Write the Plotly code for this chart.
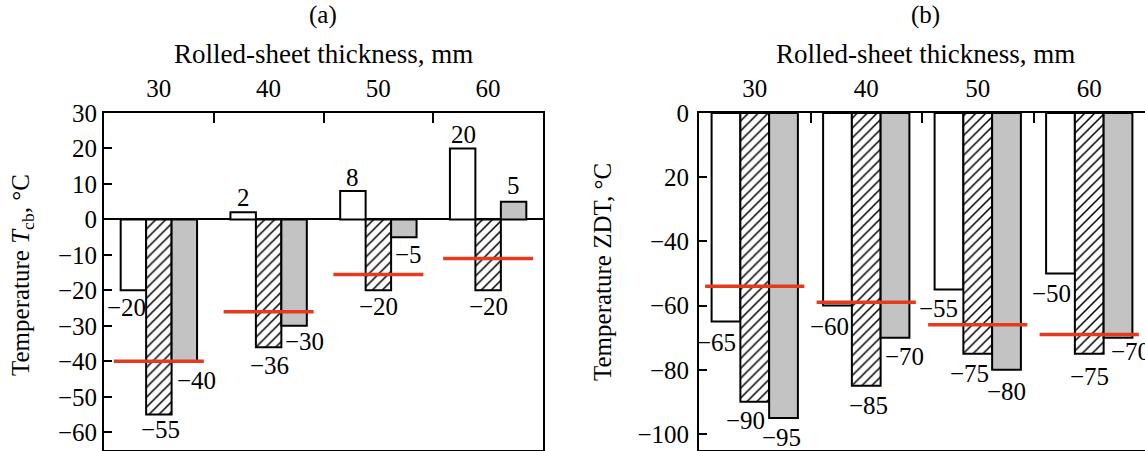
import plotly.graph_objects as go

# ---------------- data ----------------
thickness = ["30", "40", "50", "60"]

# panel (a): Temperature T_cb
a_white = [-20, 2, 8, 20]
a_hatched = [-55, -36, -20, -20]
a_gray = [-40, -30, -5, 5]
a_red = [-40, -26, -15.5, -11]
a_yticks = [30, 20, 10, 0, -10, -20, -30, -40, -50, -60]
a_yticktext = ["30", "20", "10", "0", "−10", "−20", "−30", "−40", "−50", "−60"]

# panel (b): Temperature ZDT
b_white = [-65, -60, -55, -50]
b_hatched = [-90, -85, -75, -75]
b_gray = [-95, -70, -80, -70]
b_red = [-54, -59, -66, -69]
b_yticks = [0, -20, -40, -60, -80, -100]
b_yticktext = ["0", "20", "−40", "−60", "−80", "−100"]

# ---------------- styles ----------------
W, H = 1145, 451
T_MARGIN, B_MARGIN = 113, 1
FONT = "Liberation Serif"
FS = 25
RED = "#e63a1e"
GRAY = "#c3c3c3"

def px(p):
    return p / W

def py(p):
    return (H - B_MARGIN - p) / (H - T_MARGIN - B_MARGIN)

# label offsets in px (dx right, dy down) per bar
a_off = {
    "white": [(-7, 17), (0, -15), (0, -14), (1, -14)],
    "hatched": [(2, 15), (1, 18), (0, 16), (0, 16)],
    "gray": [(12, 19), (10, 16), (5, 17), (0, -16)],
}
b_off = {
    "white": [(-9, 21), (-8, 21), (-10, 19), (-9, 20)],
    "hatched": [(-9, 19), (2, 20), (-8, 20), (0, 23)],
    "gray": [(-2, 20), (9, 19), (0, 22), (12, 14)],
}

fig = go.Figure()

def fmt(v):
    return ("−" + str(abs(v))) if v < 0 else str(v)

def add_panel(xa, ya, white, hatched, gray, red, bw, redhalf, offs):
    xs = list(range(len(thickness)))
    series = [
        ("white", white, dict(color="white")),
        ("hatched", hatched, dict(color="white",
                                  pattern=dict(shape="/", fgcolor="black", bgcolor="white",
                                               fgopacity=1, size=7, solidity=0.22))),
        ("gray", gray, dict(color=GRAY)),
    ]
    for k, (name, vals, mk) in enumerate(series):
        off = -1.5 * bw + k * bw
        fig.add_trace(go.Bar(
            x=xs, y=vals, width=bw, offset=off, name=name,
            marker=dict(**mk, line=dict(color="black", width=2)),
            xaxis=xa, yaxis=ya, showlegend=False, hoverinfo="skip"))
        for i, v in enumerate(vals):
            dx, dy = offs[name][i]
            fig.add_annotation(
                x=i + off + bw / 2, y=v, xref=xa, yref=ya,
                text=fmt(v), showarrow=False, xanchor="center", yanchor="middle",
                xshift=dx, yshift=-dy, font=dict(family=FONT, size=FS, color="black"))
    rx, ry = [], []
    for i, v in enumerate(red):
        rx += [i - redhalf, i + redhalf, None]
        ry += [v, v, None]
    fig.add_trace(go.Scatter(x=rx, y=ry, mode="lines", line=dict(color=RED, width=3.5),
                             xaxis=xa, yaxis=ya, showlegend=False, hoverinfo="skip"))

add_panel("x", "y", a_white, a_hatched, a_gray, a_red, 0.232, 0.41, a_off)
add_panel("x2", "y2", b_white, b_hatched, b_gray, b_red, 0.258, 0.445, b_off)

xcommon = dict(
    range=[-0.5, 3.5], side="top", tickmode="array", tickvals=[0, 1, 2, 3],
    ticktext=thickness, ticks="", showgrid=False, zeroline=False,
    showline=True, linecolor="black", linewidth=2,
    tickfont=dict(family=FONT, size=FS, color="black"),
    ticklabelstandoff=4,
    minor=dict(tickmode="array", tickvals=[0.5, 1.5, 2.5], ticks="inside",
               ticklen=10, tickwidth=1.5, tickcolor="black", showgrid=False),
)

fig.update_layout(
    width=W, height=H, autosize=False,
    margin=dict(l=0, r=0, t=T_MARGIN, b=B_MARGIN, pad=0),
    paper_bgcolor="white", plot_bgcolor="white",
    barmode="overlay", showlegend=False,
    font=dict(family=FONT, size=FS, color="black"),
    xaxis=dict(domain=[px(104), px(543)], anchor="y", mirror=True, **xcommon),
    xaxis2=dict(domain=[px(699), 1.0], anchor="y2", mirror=True, **xcommon),
    yaxis=dict(domain=[0, 1], anchor="x", range=[-65, 30], tickmode="array",
               tickvals=a_yticks, ticktext=a_yticktext, ticks="inside", ticklen=8,
               tickwidth=1.5, tickcolor="black", showgrid=False,
               zeroline=True, zerolinecolor="black", zerolinewidth=2,
               showline=True, linecolor="black", linewidth=2, mirror=True,
               ticklabelstandoff=0,
               tickfont=dict(family=FONT, size=FS, color="black")),
    yaxis2=dict(domain=[0, 1], anchor="x2", range=[-105, 0], tickmode="array",
                tickvals=b_yticks, ticktext=b_yticktext, ticks="inside", ticklen=8,
                tickwidth=1.5, tickcolor="black", showgrid=False, zeroline=False,
                showline=True, linecolor="black", linewidth=2, mirror=False,
                ticklabelstandoff=3,
                tickfont=dict(family=FONT, size=FS, color="black")),
)

# titles
for cx, lab in [(323, "(a)"), (925, "(b)")]:
    fig.add_annotation(x=px(cx), y=py(15), xref="paper", yref="paper", text=lab,
                       showarrow=False, xanchor="center", yanchor="middle",
                       font=dict(family=FONT, size=FS, color="black"))
    fig.add_annotation(x=px(cx), y=py(54), xref="paper", yref="paper",
                       text="Rolled-sheet thickness, mm",
                       showarrow=False, xanchor="center", yanchor="middle",
                       font=dict(family=FONT, size=27, color="black"))

fig.add_annotation(x=px(22), y=py(275), xref="paper", yref="paper",
                   text="Temperature <i>T</i><sub>cb</sub>, °C", textangle=-90,
                   showarrow=False, xanchor="center", yanchor="middle",
                   font=dict(family=FONT, size=FS, color="black"))
fig.add_annotation(x=px(602), y=py(272), xref="paper", yref="paper",
                   text="Temperature ZDT, °C", textangle=-90,
                   showarrow=False, xanchor="center", yanchor="middle",
                   font=dict(family=FONT, size=FS, color="black"))

fig.write_html("out.html")
